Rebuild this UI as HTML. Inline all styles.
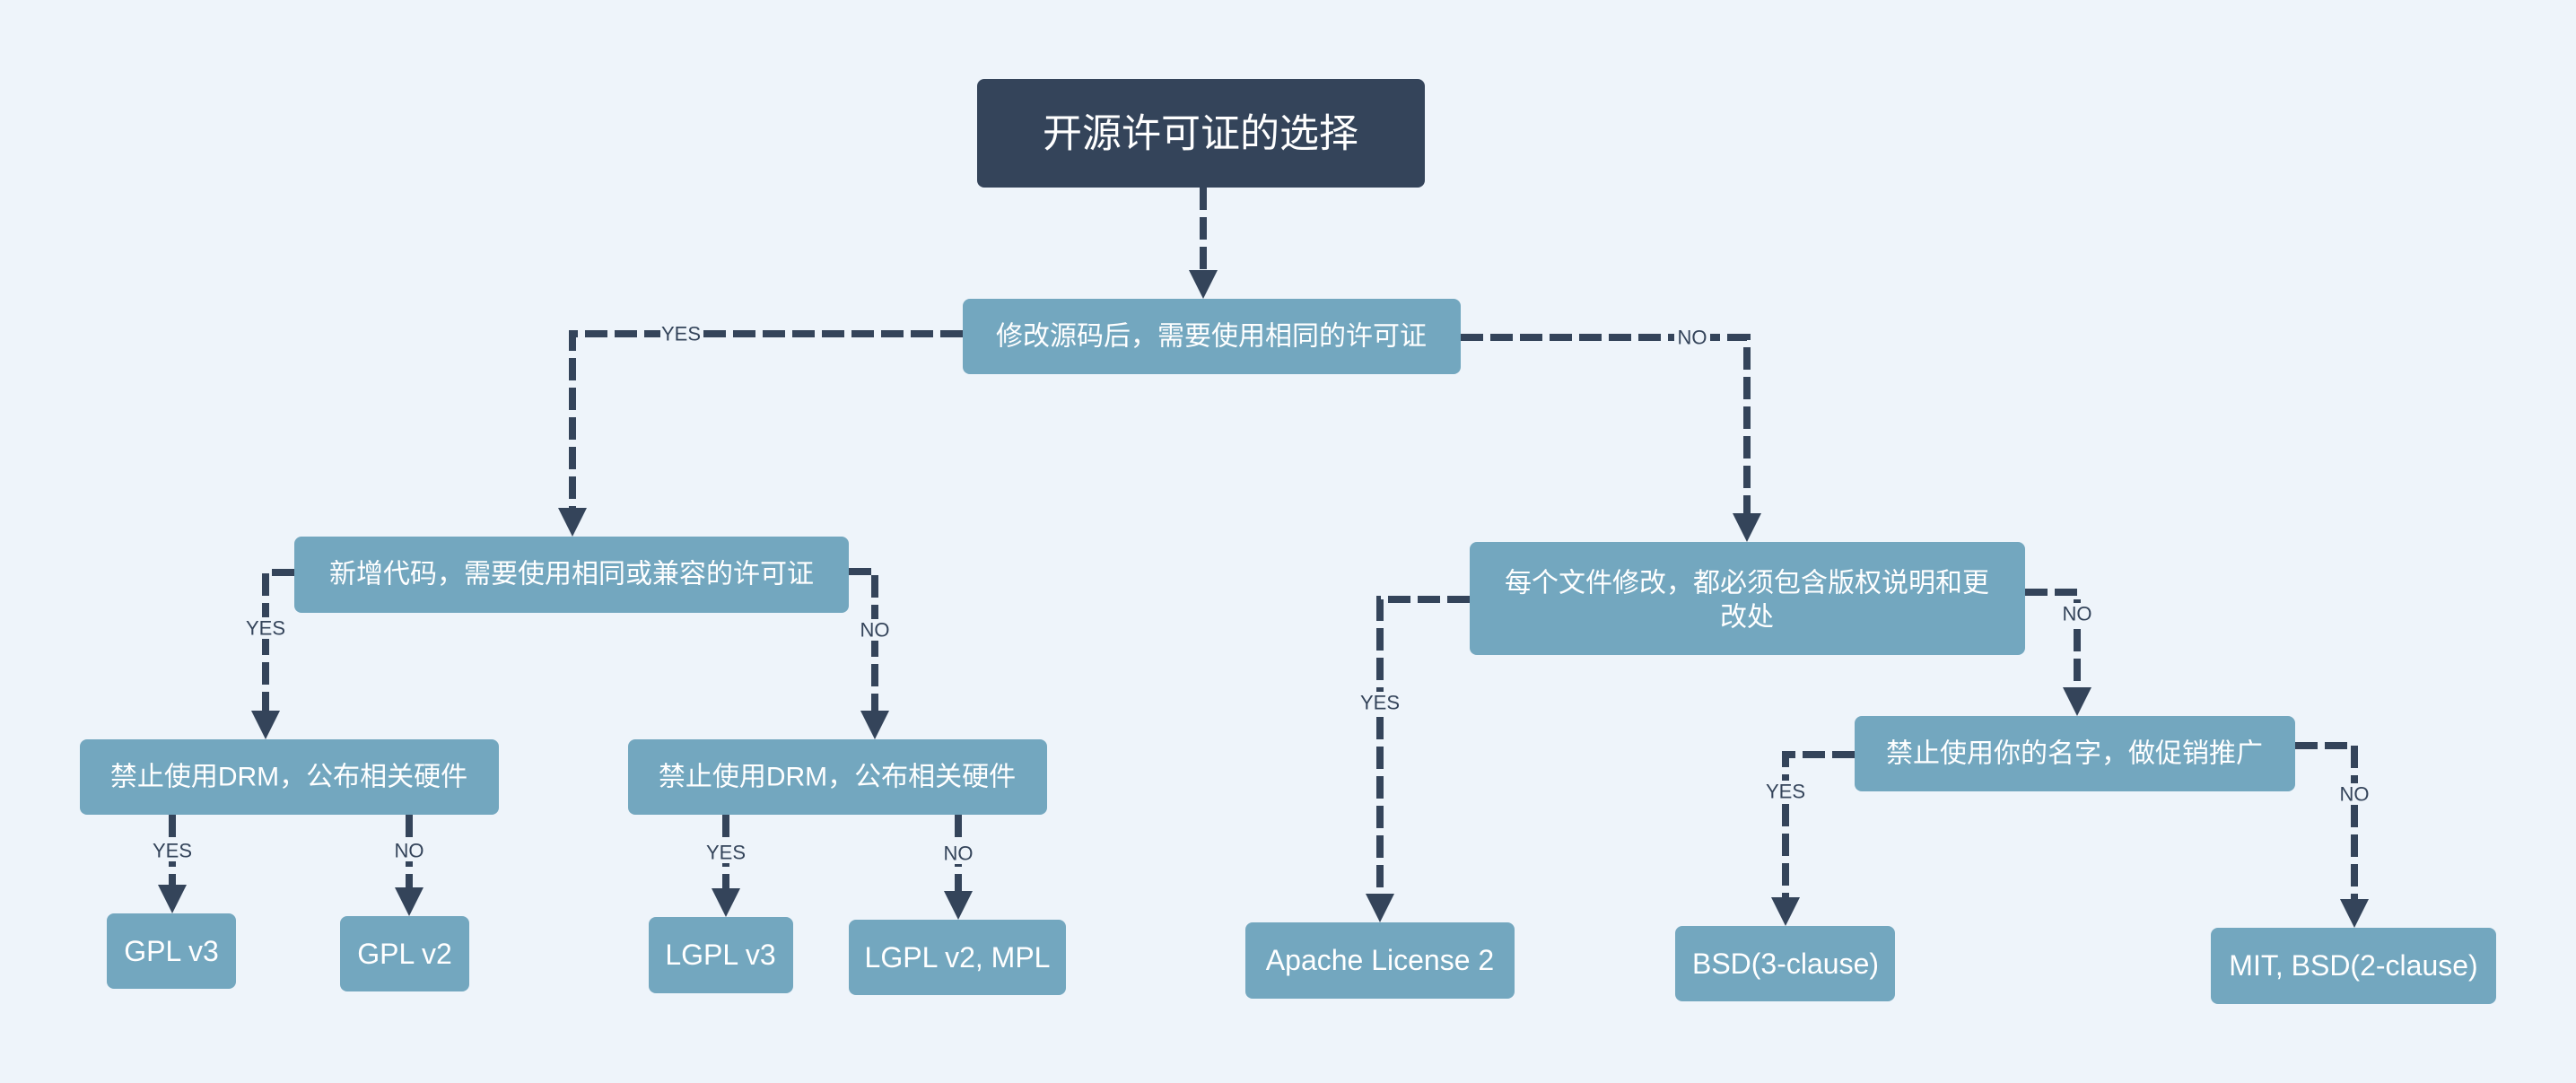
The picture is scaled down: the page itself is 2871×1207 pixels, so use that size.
<!DOCTYPE html>
<html><head><meta charset="utf-8"><style>
html,body{margin:0;padding:0;background:#eef4fa;}
svg{display:block;}
text{font-family:"Liberation Sans","Noto Sans CJK SC",sans-serif;}
.n{fill:#73a7bf;}
.t{fill:#fff;font-size:30px;text-anchor:middle;dominant-baseline:central;}
.l{fill:#fff;font-size:32px;text-anchor:middle;dominant-baseline:central;}
.e{fill:none;stroke:#34445a;stroke-width:8;stroke-dasharray:25 8;}
.a{fill:#34445a;}
.lb{fill:#34445a;font-size:22px;text-anchor:middle;dominant-baseline:central;}
.bg{fill:#eef4fa;}
</style></head><body>
<svg width="2871" height="1207" viewBox="0 0 2871 1207" xmlns="http://www.w3.org/2000/svg">
<rect width="2871" height="1207" fill="#eef4fa"/>
<!-- edges -->
<path class="e" d="M1341 209 L1341 300"/>
<path class="e" d="M1073 372 L638 372 L638 566"/>
<path class="e" d="M1628 376 L1947 376 L1947 572"/>
<path class="e" d="M328 638 L296 638 L296 792"/>
<path class="e" d="M946 637 L975 637 L975 792"/>
<path class="e" d="M192 908 L192 986"/>
<path class="e" d="M456 908 L456 989"/>
<path class="e" d="M809 908 L809 990"/>
<path class="e" d="M1068 908 L1068 993"/>
<path class="e" d="M1638 668 L1538 668 L1538 996"/>
<path class="e" d="M2257 660 L2315 660 L2315 766"/>
<path class="e" d="M2067 841 L1990 841 L1990 1000"/>
<path class="e" d="M2558 831 L2624 831 L2624 1002"/>
<!-- arrowheads -->
<polygon class="a" points="1325,301 1357,301 1341,333"/>
<polygon class="a" points="622,566 654,566 638,598"/>
<polygon class="a" points="1931,572 1963,572 1947,604"/>
<polygon class="a" points="280,792 312,792 296,824"/>
<polygon class="a" points="959,792 991,792 975,824"/>
<polygon class="a" points="176,986 208,986 192,1018"/>
<polygon class="a" points="440,989 472,989 456,1021"/>
<polygon class="a" points="793,990 825,990 809,1022"/>
<polygon class="a" points="1052,993 1084,993 1068,1025"/>
<polygon class="a" points="1522,996 1554,996 1538,1028"/>
<polygon class="a" points="2299,766 2331,766 2315,798"/>
<polygon class="a" points="1974,1000 2006,1000 1990,1032"/>
<polygon class="a" points="2608,1002 2640,1002 2624,1034"/>
<!-- labels -->
<rect class="bg" x="736" y="360" width="46" height="24"/><text class="lb" x="759" y="372">YES</text>
<rect class="bg" x="1866" y="364" width="40" height="24"/><text class="lb" x="1886" y="376">NO</text>
<rect class="bg" x="273" y="688" width="46" height="24"/><text class="lb" x="296" y="700">YES</text>
<rect class="bg" x="955" y="690" width="40" height="24"/><text class="lb" x="975" y="702">NO</text>
<rect class="bg" x="169" y="936" width="46" height="24"/><text class="lb" x="192" y="948">YES</text>
<rect class="bg" x="436" y="936" width="40" height="24"/><text class="lb" x="456" y="948">NO</text>
<rect class="bg" x="786" y="938" width="46" height="24"/><text class="lb" x="809" y="950">YES</text>
<rect class="bg" x="1048" y="939" width="40" height="24"/><text class="lb" x="1068" y="951">NO</text>
<rect class="bg" x="1515" y="771" width="46" height="24"/><text class="lb" x="1538" y="783">YES</text>
<rect class="bg" x="2295" y="672" width="40" height="24"/><text class="lb" x="2315" y="684">NO</text>
<rect class="bg" x="1967" y="870" width="46" height="24"/><text class="lb" x="1990" y="882">YES</text>
<rect class="bg" x="2604" y="873" width="40" height="24"/><text class="lb" x="2624" y="885">NO</text>
<!-- nodes -->
<rect x="1089" y="88" width="499" height="121" rx="8" fill="#34445a"/>
<text x="1338" y="149" fill="#fff" font-size="44" text-anchor="middle" dominant-baseline="central">开源许可证的选择</text>
<rect class="n" x="1073" y="333" width="555" height="84" rx="8"/>
<text class="t" x="1350" y="375">修改源码后，需要使用相同的许可证</text>
<rect class="n" x="328" y="598" width="618" height="85" rx="8"/>
<text class="t" x="637" y="640">新增代码，需要使用相同或兼容的许可证</text>
<rect class="n" x="1638" y="604" width="619" height="126" rx="8"/>
<text class="t" x="1947" y="650">每个文件修改，都必须包含版权说明和更</text>
<text class="t" x="1947" y="688">改处</text>
<rect class="n" x="89" y="824" width="467" height="84" rx="8"/>
<text class="t" x="322" y="866">禁止使用DRM，公布相关硬件</text>
<rect class="n" x="700" y="824" width="467" height="84" rx="8"/>
<text class="t" x="933" y="866">禁止使用DRM，公布相关硬件</text>
<rect class="n" x="2067" y="798" width="491" height="84" rx="8"/>
<text class="t" x="2312" y="840">禁止使用你的名字，做促销推广</text>
<rect class="n" x="119" y="1018" width="144" height="84" rx="8"/>
<text class="l" x="191" y="1060">GPL v3</text>
<rect class="n" x="379" y="1021" width="144" height="84" rx="8"/>
<text class="l" x="451" y="1063">GPL v2</text>
<rect class="n" x="723" y="1022" width="161" height="85" rx="8"/>
<text class="l" x="803" y="1064">LGPL v3</text>
<rect class="n" x="946" y="1025" width="242" height="84" rx="8"/>
<text class="l" x="1067" y="1067">LGPL v2, MPL</text>
<rect class="n" x="1388" y="1028" width="300" height="85" rx="8"/>
<text class="l" x="1538" y="1070">Apache License 2</text>
<rect class="n" x="1867" y="1032" width="245" height="84" rx="8"/>
<text class="l" x="1990" y="1074">BSD(3-clause)</text>
<rect class="n" x="2464" y="1034" width="318" height="85" rx="8"/>
<text class="l" x="2623" y="1076">MIT, BSD(2-clause)</text>
</svg>
</body></html>
